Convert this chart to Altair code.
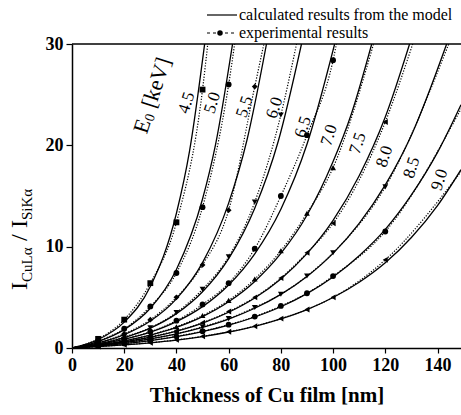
import altair as alt
import pandas as pd

# Primary beam energies E0 [keV]
ENERGIES = ["4.5", "5.0", "5.5", "6.0", "6.5", "7.0", "7.5", "8.0", "8.5", "9.0"]

# Calculated ratio curves (model): Cu film thickness [nm] and I(CuLa)/I(SiKa)
calc_x_45 = [0, 10, 20, 30, 40, 45, 50.8]
calc_y_45 = [0, 0.83, 2.55, 6.07, 13.3, 19.4, 30]
calc_x_50 = [0, 10, 20, 30, 40, 50, 55, 61.5]
calc_y_50 = [0, 0.64, 1.81, 3.92, 7.75, 14.7, 20.1, 30]
calc_x_55 = [0, 10, 20, 30, 40, 50, 60, 67, 74.5]
calc_y_55 = [0, 0.50, 1.32, 2.66, 4.85, 8.43, 14.3, 20.5, 30]
calc_x_60 = [0, 10, 20, 30, 40, 50, 60, 70, 79, 87.9]
calc_y_60 = [0, 0.41, 1.03, 1.96, 3.39, 5.55, 8.82, 13.8, 20.4, 30]
calc_x_65 = [0, 10, 20, 30, 40, 50, 60, 70, 80, 90, 100.6]
calc_y_65 = [0, 0.35, 0.85, 1.56, 2.60, 4.08, 6.22, 9.30, 13.7, 20.1, 30]
calc_x_70 = [0, 10, 20, 30, 40, 50, 60, 70, 80, 90, 100, 107, 114.8]
calc_y_70 = [0, 0.30, 0.70, 1.27, 2.04, 3.10, 4.56, 6.57, 9.33, 13.1, 18.4, 23.1, 30]
calc_x_75 = [0, 10, 20, 30, 40, 50, 60, 70, 80, 90, 100, 110, 120, 129.3]
calc_y_75 = [0, 0.26, 0.60, 1.06, 1.66, 2.46, 3.53, 4.94, 6.82, 9.31, 12.6, 17.0, 22.8, 30]
calc_x_80 = [0, 10, 20, 30, 40, 50, 60, 70, 80, 90, 100, 110, 120, 130, 143.5]
calc_y_80 = [0, 0.23, 0.53, 0.91, 1.40, 2.04, 2.86, 3.92, 5.29, 7.06, 9.34, 12.3, 16.1, 21.0, 30]
calc_x_85 = [0, 10, 20, 30, 40, 50, 60, 70, 80, 90, 100, 110, 120, 130, 140, 149]
calc_y_85 = [0, 0.19, 0.43, 0.73, 1.12, 1.62, 2.25, 3.06, 4.07, 5.36, 7.0, 9.1, 11.7, 15.1, 19.3, 24.0]
calc_x_90 = [0, 10, 20, 30, 40, 50, 60, 70, 80, 90, 100, 110, 120, 130, 140, 149]
calc_y_90 = [0, 0.13, 0.30, 0.51, 0.78, 1.13, 1.58, 2.14, 2.87, 3.79, 4.98, 6.49, 8.41, 10.9, 14.05, 17.6]

CALC_X = [calc_x_45, calc_x_50, calc_x_55, calc_x_60, calc_x_65,
          calc_x_70, calc_x_75, calc_x_80, calc_x_85, calc_x_90]
CALC_Y = [calc_y_45, calc_y_50, calc_y_55, calc_y_60, calc_y_65,
          calc_y_70, calc_y_75, calc_y_80, calc_y_85, calc_y_90]

# Measured film thicknesses [nm] and experimental ratios
MEAS_X = [10, 20, 30, 40, 50, 60, 70, 80, 90, 100, 120]
exp_y_45 = [0.9, 2.8, 6.4, 12.4, 25.5]
exp_y_50 = [0.7, 1.9, 4.1, 7.4, 13.9, 26.0]
exp_y_55 = [0.5, 1.4, 2.8, 5.0, 8.2, 13.6, 25.8]
exp_y_60 = [0.4, 1.1, 2.0, 3.5, 5.8, 9.0, 14.4, 23.0]
exp_y_65 = [0.35, 0.9, 1.6, 2.7, 4.3, 6.4, 9.8, 15.0, 21.0, 28.4]
exp_y_70 = [0.3, 0.7, 1.3, 2.1, 3.2, 4.7, 6.8, 9.6, 13.3, 17.8]
exp_y_75 = [0.27, 0.62, 1.1, 1.7, 2.5, 3.6, 5.0, 6.9, 9.4, 12.3, 22.3]
exp_y_80 = [0.24, 0.55, 0.93, 1.4, 2.1, 2.9, 4.0, 5.3, 7.1, 9.4, 15.9]
exp_y_85 = [0.2, 0.45, 0.75, 1.15, 1.65, 2.3, 3.1, 4.15, 5.4, 7.1, 11.5]
exp_y_90 = [0.14, 0.31, 0.52, 0.8, 1.15, 1.6, 2.15, 2.9, 3.8, 5.0, 8.7]
EXP_Y = [exp_y_45, exp_y_50, exp_y_55, exp_y_60, exp_y_65,
         exp_y_70, exp_y_75, exp_y_80, exp_y_85, exp_y_90]

# Where each experimental (dotted) curve leaves the plotting frame
EXP_END_X = [52, 62.3, 73.5, 86, 101.3, 115.5, 130.5, 144.3, 149, 149]
EXP_END_Y = [30, 30, 30, 30, 30, 30, 30, 30, 23.6, 17.4]

EXP_SHAPES = ["square", "circle", "diamond", "triangle-down", "circle",
              "triangle-up", "triangle-left", "triangle-down", "circle", "triangle-left"]

# Curve label anchors (thickness, ratio)
LABEL_X = [43.9, 53.8, 66.1, 77.6, 88.5, 98.5, 109.5, 119.7, 130.1, 140.8]
LABEL_Y = [24.2, 24.2, 23.8, 23.7, 21.8, 21.0, 20.2, 18.9, 17.8, 16.6]

SERIF = "Liberation Serif"
X_MAX = 149

calc_rows, exp_rows, fit_rows = [], [], []
for e, xs, ys in zip(ENERGIES, CALC_X, CALC_Y):
    for x, y in zip(xs, ys):
        calc_rows.append({"energy": e, "t": x, "r": y})
for e, ys, ex, ey in zip(ENERGIES, EXP_Y, EXP_END_X, EXP_END_Y):
    fit_rows.append({"energy": e, "t": 0, "r": 0})
    for x, y in zip(MEAS_X, ys):
        exp_rows.append({"energy": e, "t": x, "r": y})
        fit_rows.append({"energy": e, "t": x, "r": y})
    fit_rows.append({"energy": e, "t": ex, "r": ey})

calc_df = pd.DataFrame(calc_rows)
exp_df = pd.DataFrame(exp_rows)
fit_df = pd.DataFrame(fit_rows)
label_df = pd.DataFrame({"energy": ENERGIES, "t": LABEL_X, "r": LABEL_Y})

x_enc = alt.X(
    "t:Q",
    scale=alt.Scale(domain=[0, X_MAX], nice=False, zero=False),
    axis=alt.Axis(
        values=list(range(0, 150, 10)),
        labelExpr="datum.value % 20 === 0 ? datum.label : ''",
        labelOverlap=False, labelFlush=False,
        title="Thickness of Cu film [nm]",
        titleFont=SERIF, titleFontSize=21, titleFontWeight="bold",
        titleColor="black", titlePadding=10,
        labelFont=SERIF, labelFontSize=18, labelFontWeight="bold",
        labelColor="black", labelPadding=3,
        tickSize=5, tickColor="black", domainColor="black",
        domainWidth=1.5, tickWidth=1.2, grid=False,
    ),
)
y_enc = alt.Y(
    "r:Q",
    scale=alt.Scale(domain=[0, 30], nice=False),
    axis=alt.Axis(
        values=[0, 10, 20, 30], title=None,
        labelFont=SERIF, labelFontSize=18, labelFontWeight="bold",
        labelColor="black", labelPadding=3,
        tickSize=6, tickColor="black", domainColor="black",
        domainWidth=1.5, tickWidth=1.2, grid=False,
    ),
)

calc = alt.Chart(calc_df).mark_line(
    color="black", strokeWidth=1.3, interpolate="monotone", clip=True
).encode(x=x_enc, y=y_enc, detail="energy:N", order="t:Q")

fit = alt.Chart(fit_df).mark_line(
    color="black", strokeWidth=1.2, strokeDash=[1.2, 1.6],
    interpolate="monotone", clip=True
).encode(x="t:Q", y="r:Q", detail="energy:N", order="t:Q")

points = alt.Chart(exp_df).mark_point(
    filled=True, color="black", size=34, opacity=1
).encode(
    x="t:Q", y="r:Q",
    shape=alt.Shape("energy:N", scale=alt.Scale(domain=ENERGIES, range=EXP_SHAPES), legend=None),
)

top_rule = alt.Chart(pd.DataFrame({"r": [30]})).mark_rule(
    color="black", strokeWidth=1.5
).encode(y="r:Q")

labels = alt.Chart(label_df).mark_text(
    font=SERIF, fontSize=17, angle=288, align="center", baseline="middle", color="black"
).encode(x="t:Q", y="r:Q", text="energy:N")

# E0 [keV] heading, built from pieces so that the subscript sits low
e0_df = pd.DataFrame({"t": [30.8], "r": [25.0]})
e0_main = alt.Chart(e0_df).mark_text(
    font=SERIF, fontSize=22, angle=288, align="left", baseline="middle", dx=-40, color="black"
).encode(x="t:Q", y="r:Q", text=alt.value("E"))
e0_sub = alt.Chart(e0_df).mark_text(
    font=SERIF, fontSize=14, angle=288, align="left", baseline="middle", dx=-26, dy=5, color="black"
).encode(x="t:Q", y="r:Q", text=alt.value("0"))
e0_unit = alt.Chart(e0_df).mark_text(
    font=SERIF, fontSize=22, angle=288, align="left", baseline="middle", dx=-13, color="black"
).encode(x="t:Q", y="r:Q", text=alt.value("[keV]"))

# Rotated y-axis title with subscripts
yt_x, yt_y = -45, 246
yt_pieces = [("I", 24, 0, 0), ("CuLα", 15, 8, 5), ("/", 24, 49, 0),
             ("I", 24, 62, 0), ("SiKα", 15, 70, 5)]
ytitle = [
    alt.Chart(pd.DataFrame({"k": [0]})).mark_text(
        font=SERIF, fontSize=fs, angle=270, align="left", baseline="alphabetic",
        dx=dx, dy=dy, color="black"
    ).encode(x=alt.value(yt_x), y=alt.value(yt_y), text=alt.value(txt))
    for txt, fs, dx, dy in yt_pieces
]

# Legend above the frame
leg_base = alt.Chart(pd.DataFrame({"k": [0]}))
leg_solid = leg_base.mark_rule(color="black", strokeWidth=1.2).encode(
    x=alt.value(135), x2=alt.value(165), y=alt.value(-29))
leg_dot = leg_base.mark_rule(color="black", strokeWidth=1.2, strokeDash=[3, 3]).encode(
    x=alt.value(135), x2=alt.value(165), y=alt.value(-11))
leg_marker = leg_base.mark_point(filled=True, color="black", size=30, shape="circle", opacity=1).encode(
    x=alt.value(148), y=alt.value(-11))
leg_txt1 = leg_base.mark_text(font=SERIF, fontSize=16, align="left", baseline="middle", color="black").encode(
    x=alt.value(167), y=alt.value(-29), text=alt.value("calculated results from the model"))
leg_txt2 = leg_base.mark_text(font=SERIF, fontSize=16, align="left", baseline="middle", color="black").encode(
    x=alt.value(167), y=alt.value(-11), text=alt.value("experimental results"))

chart = alt.layer(
    calc, fit, points, top_rule, labels, e0_main, e0_sub, e0_unit,
    *ytitle, leg_solid, leg_dot, leg_marker, leg_txt1, leg_txt2,
).properties(
    width=389, height=304,
    padding={"left": 72, "top": 44, "right": 0, "bottom": 67},
    autosize=alt.AutoSizeParams(type="none"),
    background="white",
).configure_view(stroke=None)

chart.save("out.html", embed_options={"renderer": "svg", "actions": False})
